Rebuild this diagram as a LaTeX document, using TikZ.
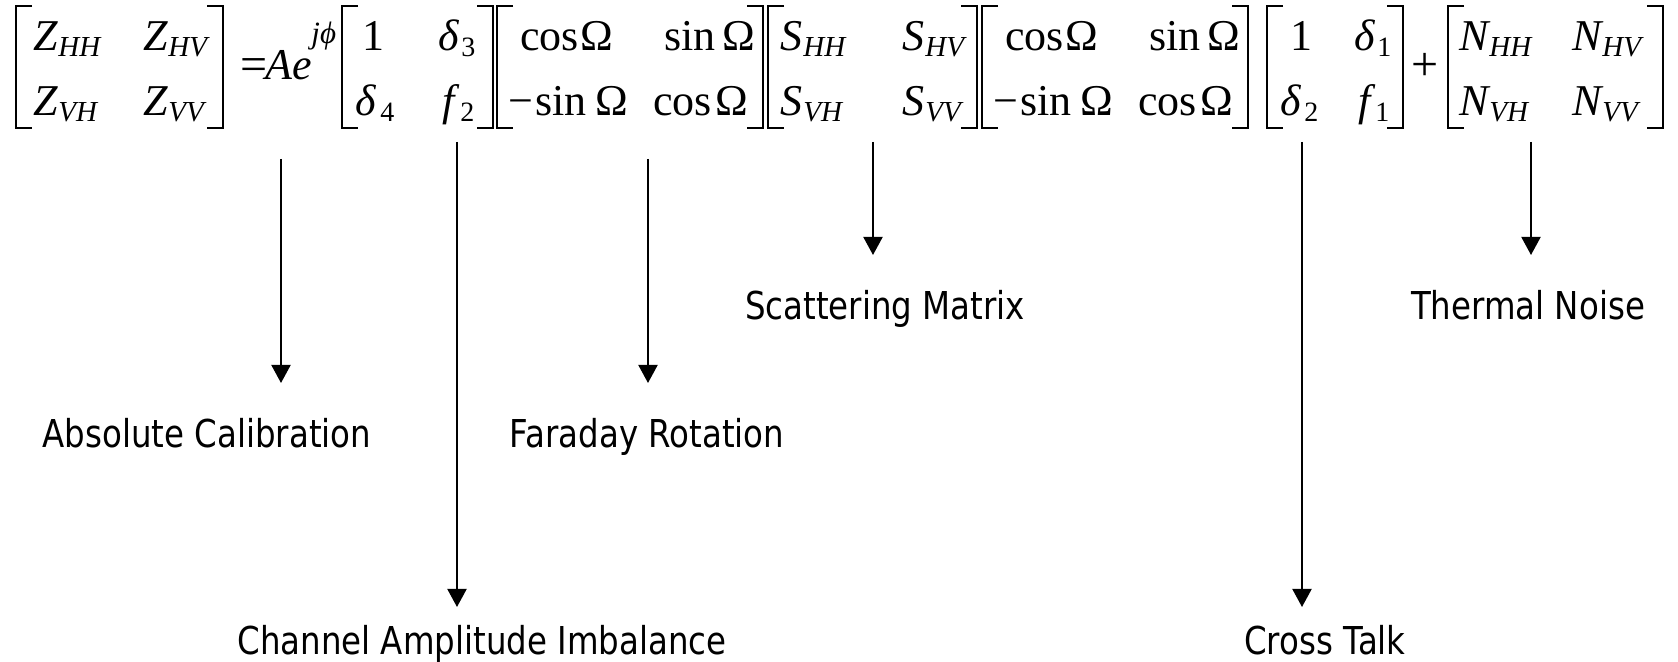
\documentclass[tikz,border=0pt]{standalone}
\usepackage{fontspec}
\setmainfont{Liberation Serif}
\newfontfamily\labfont[FakeStretch=0.845]{DejaVu Sans}
\usetikzlibrary{arrows.meta}
\begin{document}
\begin{tikzpicture}[x=0.5pt,y=-0.5pt,
  mv/.style={anchor=base west,inner sep=0pt,font=\fontsize{22}{22}\selectfont\itshape},
  mr/.style={anchor=base west,inner sep=0pt,font=\fontsize{22}{22}\selectfont},
  sb/.style={anchor=base west,inner sep=0pt,font=\fontsize{14.5}{14.5}\selectfont\itshape},
  sbr/.style={anchor=base west,inner sep=0pt,font=\fontsize{14}{14}\selectfont},
  lab/.style={anchor=base,inner sep=0pt,font=\labfont\fontsize{19.2}{20}\selectfont},
  brk/.style={line width=1pt},
  arr/.style={line width=1pt,-{Triangle[width=9.5pt,length=9pt]}}]
\useasboundingbox (0,0) rectangle (1678,662);

% ---------- matrix Z ----------
\draw[brk] (32,6) -- (16,6) -- (16,128) -- (32,128);
\node[mv] (z11) at (33,51) {Z};  \node[sb] (z11s) at (58,57) {HH};
\node[mv] (z12) at (143,51) {Z}; \node[sb] (z12s) at (168,57) {HV};
\node[mv] (z21) at (33,116) {Z};  \node[sb] (z21s) at (58,122) {VH};
\node[mv] (z22) at (143,116) {Z}; \node[sb] (z22s) at (168,122) {VV};
\draw[brk] (207,6) -- (223,6) -- (223,128) -- (207,128);

\node[mr,font=\fontsize{24}{24}\selectfont] (eq) at (240,81) {=};
\node[mv] (A) at (265,80) {A};
\node[mv] (e) at (292,80) {e};
\node[sb,font=\fontsize{15.5}{15.5}\selectfont\itshape] (jphi) at (311,44) {jϕ};

% ---------- matrix delta (left) ----------
\draw[brk] (358,6) -- (342,6) -- (342,128) -- (358,128);
\node[mr] (d11) at (362,51) {1};
\node[mv] (d12) at (438,51) {δ}; \node[sbr] (d12s) at (461,57) {3};
\node[mv] (d21) at (355,116) {δ}; \node[sbr] (d21s) at (380,122) {4};
\node[mv] (d22) at (442,116) {f}; \node[sbr] (d22s) at (460,122) {2};
\draw[brk] (477,6) -- (493,6) -- (493,128) -- (477,128);

% ---------- rotation matrix (left) ----------
\draw[brk] (513,6) -- (497,6) -- (497,128) -- (513,128);
\node[mr] (r11) at (520,51) {cos}; \node[mr] (r11o) at (580,51) {Ω};
\node[mr] (r12) at (664,51) {sin}; \node[mr] (r12o) at (722,51) {Ω};
\node[mr] (r21m) at (508,116) {−}; \node[mr] (r21) at (535,116) {sin}; \node[mr] (r21o) at (595,116) {Ω};
\node[mr] (r22) at (653,116) {cos}; \node[mr] (r22o) at (715,116) {Ω};
\draw[brk] (747,6) -- (763,6) -- (763,128) -- (747,128);

% ---------- scattering matrix ----------
\draw[brk] (784,6) -- (768,6) -- (768,128) -- (784,128);
\node[mv] (s11) at (780,51) {S};  \node[sb] (s11s) at (803,57) {HH};
\node[mv] (s12) at (902,51) {S};  \node[sb] (s12s) at (925,57) {HV};
\node[mv] (s21) at (780,116) {S};  \node[sb] (s21s) at (803,122) {VH};
\node[mv] (s22) at (902,116) {S};  \node[sb] (s22s) at (925,122) {VV};
\draw[brk] (961,6) -- (977,6) -- (977,128) -- (961,128);

% ---------- rotation matrix (right) ----------
\draw[brk] (998,6) -- (982,6) -- (982,128) -- (998,128);
\node[mr] (q11) at (1005,51) {cos}; \node[mr] (q11o) at (1065,51) {Ω};
\node[mr] (q12) at (1149,51) {sin}; \node[mr] (q12o) at (1207,51) {Ω};
\node[mr] (q21m) at (993,116) {−}; \node[mr] (q21) at (1020,116) {sin}; \node[mr] (q21o) at (1080,116) {Ω};
\node[mr] (q22) at (1138,116) {cos}; \node[mr] (q22o) at (1200,116) {Ω};
\draw[brk] (1232,6) -- (1248,6) -- (1248,128) -- (1232,128);

% ---------- matrix delta (right) ----------
\draw[brk] (1283,6) -- (1267,6) -- (1267,128) -- (1283,128);
\node[mr] (c11) at (1290,51) {1};
\node[mv] (c12) at (1354,51) {δ}; \node[sbr] (c12s) at (1377,57) {1};
\node[mv] (c21) at (1280,116) {δ}; \node[sbr] (c21s) at (1304,122) {2};
\node[mv] (c22) at (1358,116) {f}; \node[sbr] (c22s) at (1375,122) {1};
\draw[brk] (1387,6) -- (1403,6) -- (1403,128) -- (1387,128);

\node[mr,font=\fontsize{24}{24}\selectfont] (plus) at (1411,81) {+};

% ---------- noise matrix ----------
\draw[brk] (1464,6) -- (1448,6) -- (1448,128) -- (1464,128);
\node[mv] (n11) at (1459,51) {N};  \node[sb] (n11s) at (1489,57) {HH};
\node[mv] (n12) at (1572,51) {N};  \node[sb] (n12s) at (1602,57) {HV};
\node[mv] (n21) at (1459,116) {N};  \node[sb] (n21s) at (1489,122) {VH};
\node[mv] (n22) at (1572,116) {N};  \node[sb] (n22s) at (1602,122) {VV};
\draw[brk] (1647,6) -- (1663,6) -- (1663,128) -- (1647,128);

% ---------- labels ----------
\node[lab] (labAbs) at (207,448) {Absolute Calibration};
\node[lab] (labFar) at (647,448) {Faraday Rotation};
\node[lab] (labSca) at (885,320) {Scattering Matrix};
\node[lab] (labThe) at (1528,320) {Thermal Noise};
\node[lab] (labCha) at (482,655) {Channel Amplitude Imbalance};
\node[lab] (labCro) at (1325,655) {Cross Talk};

% ---------- arrow ends ----------
\coordinate (aAbs) at (281,159);  \coordinate (bAbs) at (281,383);
\coordinate (aCha) at (457,142);  \coordinate (bCha) at (457,607);
\coordinate (aFar) at (648,159);  \coordinate (bFar) at (648,383);
\coordinate (aSca) at (873,142);  \coordinate (bSca) at (873,255);
\coordinate (aCro) at (1302,142); \coordinate (bCro) at (1302,607);
\coordinate (aThe) at (1531,142); \coordinate (bThe) at (1531,255);

\draw[arr] (aAbs) -- (bAbs);
\draw[arr] (aCha) -- (bCha);
\draw[arr] (aFar) -- (bFar);
\draw[arr] (aSca) -- (bSca);
\draw[arr] (aCro) -- (bCro);
\draw[arr] (aThe) -- (bThe);
\end{tikzpicture}
\end{document}
